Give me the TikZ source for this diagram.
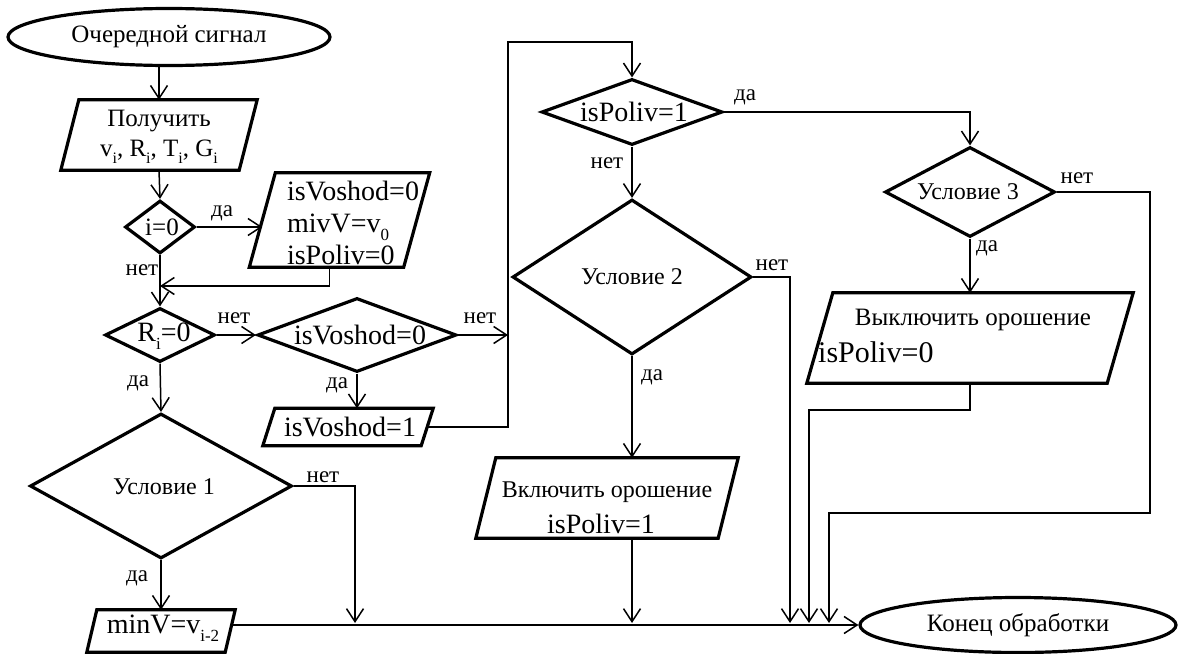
\documentclass[tikz,border=0pt]{standalone}
\usepackage{fontspec}
\setmainfont{Liberation Serif}
\usetikzlibrary{shapes.geometric,arrows.meta}
\newcommand\lo[2][16]{\raisebox{-0.3em}{\fontsize{#1}{#1}\selectfont #2}}
\tikzset{
 shp/.style={line width=3.2pt, line join=miter},
 dia/.style={shape=diamond, draw, shp, inner sep=0pt},
 term/.style={shape=ellipse, draw, shp, inner sep=0pt, font=\fontsize{25}{28}\selectfont},
 ru/.style={inner sep=0pt, font=\fontsize{24}{30}\selectfont},
 fm/.style={inner sep=0pt, font=\fontsize{28}{32}\selectfont},
 lbl/.style={inner sep=0pt, font=\fontsize{23}{26}\selectfont},
 conn/.style={line width=1.5pt},
 arr/.style={conn, -{Straight Barb[length=13pt,width=17pt]}},
}
\newcommand\para[6]{%
  \node[inner sep=0pt, minimum width=#4pt, minimum height=#5pt] (#1) at (#2,#3) {};
  \draw[shp] ([xshift=#6pt]#1.north west) -- ([xshift=#6pt]#1.north east) -- ([xshift=-#6pt]#1.south east) -- ([xshift=-#6pt]#1.south west) -- cycle;
}
\begin{document}
\begin{tikzpicture}[x=1pt,y=-1pt]
\useasboundingbox (0,0) rectangle (1180,653);
% shapes
\node[term, minimum width=322pt, minimum height=57pt] (start) at (169,37) {Очередной сигнал};
\para{p1}{159}{135}{178}{70}{9}
\node[ru, align=center, font=\fontsize{25}{30}\selectfont] (p1t) at (159,137) {Получить\\v\lo{i}, R\lo{i}, T\lo{i}, G\lo{i}};
\node[dia, minimum width=70pt, minimum height=53pt] (d0) at (160,227) {};
\node[fm, font=\fontsize{25}{28}\selectfont] (d0t) at (162,227) {i=0};
\para{p2}{339.5}{220}{154}{94}{13}
\node[fm, align=left] (p2t) at (353,223) {isVoshod=0\\mivV=v\lo[17]{0}\\isPoliv=0};
\node[dia, minimum width=110pt, minimum height=54pt] (d1) at (160,335) {};
\node[fm] (d1t) at (164,336) {R\lo[17]{i}=0};
\node[dia, minimum width=199pt, minimum height=74pt] (d2) at (357,335) {};
\node[fm] (d2t) at (360,335) {isVoshod=0};
\para{p3}{348}{427}{158}{37}{6}
\node[fm] (p3t) at (350,427) {isVoshod=1};
\node[dia, minimum width=181pt, minimum height=66pt] (d3) at (632,112) {};
\node[fm] (d3t) at (634,112) {isPoliv=1};
\node[dia, minimum width=239pt, minimum height=155pt] (d4) at (632,277) {};
\node[ru] (d4t) at (632,277) {Условие 2};
\node[dia, minimum width=170pt, minimum height=90pt] (d5) at (970,192) {};
\node[ru] (d5t) at (968,192) {Условие 3};
\para{p5}{970}{338}{300}{90}{13}
\node[ru, font=\fontsize{25}{30}\selectfont] (p5a) at (973,320) {Выключить орошение};
\node[fm, anchor=west, font=\fontsize{30}{32}\selectfont] (p5b) at (818,352) {isPoliv=0};
\para{p4}{607}{498}{242}{80}{10}
\node[ru] (p4a) at (607,492) {Включить орошение};
\node[fm] (p4b) at (601,524) {isPoliv=1};
\node[dia, minimum width=262pt, minimum height=145pt] (d6) at (161,486) {};
\node[ru] (d6t) at (164,487) {Условие 1};
\para{p6}{161}{631}{138}{42}{5}
\node[fm] (p6t) at (163,628) {minV=v\lo[17]{i-2}};
\node[term, minimum width=316pt, minimum height=55pt] (end) at (1018,625) {Конец обработки};
% helper coordinates
\coordinate (m1) at (160,286);
\coordinate (c1) at (508,335);
\coordinate (c2) at (508,42);
\coordinate (k1) at (1150,513);
\coordinate (k2) at (809,410);
\coordinate (e1) at (355,623);
\coordinate (e2) at (632,623);
\coordinate (e3) at (790,623);
\coordinate (e4) at (809,623);
\coordinate (e5) at (829,623);
% connectors
\draw[arr] (start.south -| p1.north) -- (p1.north);
\draw[arr] (p1.south) -- (d0.north);
\draw[arr] (d0.east) -- (d0.east -| p2.west);
\draw[arr] (d0.south) -- (d1.north);
\draw[arr] ([xshift=-10pt]p2.south) |- (m1);
\draw[arr] (d1.east) -- (d2.west);
\draw[arr] (d2.east) -- (c1);
\draw[arr] (d2.south) -- (d2.south |- p3.north);
\draw[arr] (p3.east) -| (c2) -| (d3.north);
\draw[arr] (d3.south) -- (d4.north);
\draw[arr] (d3.east) -| (d5.north);
\draw[arr] (d5.south) -- (p5.north);
\draw[arr] (d5.east) -| (k1) -| (e5);
\draw[arr] (p5.south) |- (k2) -- (e4);
\draw[arr] (d4.east) -| (e3);
\draw[arr] (d4.south) -- (d4.south |- p4.north);
\draw[arr] (p4.south -| d4.south) -- (e2);
\draw[arr] (d1.south) -- (d6.north);
\draw[arr] (d6.east) -| (e1);
\draw[arr] (d6.south) -- (p6.north);
\draw[arr] (p6.east |- end.west) -- (end.west);
% labels
\node[lbl] (l1) at (222,213) {да};
\node[lbl] (l2) at (142,270) {нет};
\node[lbl] (l3) at (234,318) {нет};
\node[lbl] (l4) at (480,318) {нет};
\node[lbl] (l5) at (337,385) {да};
\node[lbl] (l6) at (138,383) {да};
\node[lbl] (l7) at (323,477) {нет};
\node[lbl] (l8) at (137,578) {да};
\node[lbl] (l9) at (745,97) {да};
\node[lbl] (l10) at (607,163) {нет};
\node[lbl] (l11) at (772,265) {нет};
\node[lbl] (l12) at (652,377) {да};
\node[lbl] (l13) at (1077,178) {нет};
\node[lbl] (l14) at (987,248) {да};
\end{tikzpicture}
\end{document}
